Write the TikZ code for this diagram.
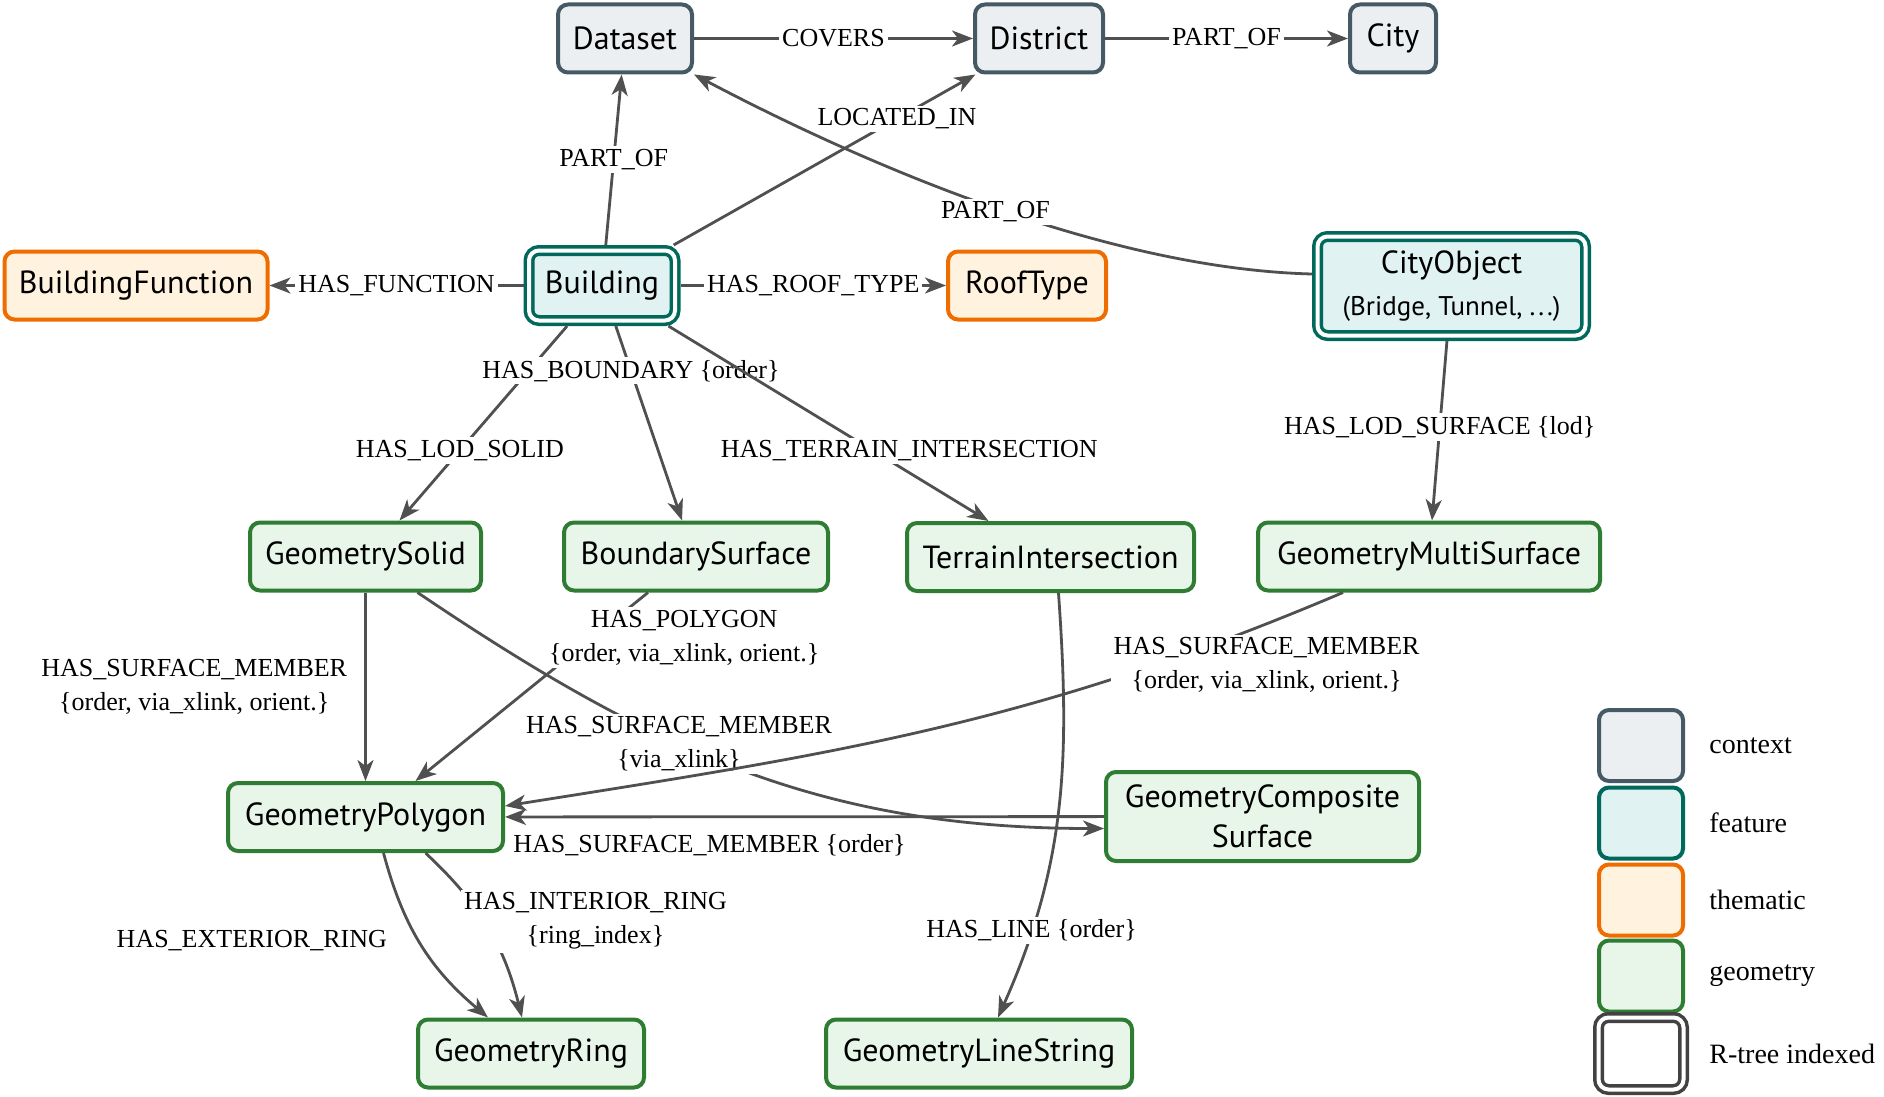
\documentclass[tikz,border=0pt]{standalone}
\usepackage{fontspec}
\setmainfont{Liberation Serif}
\newfontfamily\boxfont{PT Sans}
\usepackage{tikz}
\usetikzlibrary{positioning, arrows.meta}
\usepackage{xcolor}

\definecolor{ctxline}{HTML}{455A64}
\definecolor{ctxfill}{HTML}{ECEFF1}
\definecolor{featline}{HTML}{00695C}
\definecolor{featfill}{HTML}{E0F2F1}
\definecolor{themline}{HTML}{EF6C00}
\definecolor{themfill}{HTML}{FFF3E0}
\definecolor{geomline}{HTML}{2E7D32}
\definecolor{geomfill}{HTML}{E8F5E9}
\definecolor{rtreeline}{HTML}{424242}
\definecolor{edgegray}{HTML}{505050}

\begin{document}
\begin{tikzpicture}[x=0.5pt, y=-0.5pt,
    box/.style={rounded corners=5pt, line width=2pt, minimum height=34pt, inner xsep=5pt,
        font=\boxfont\fontsize{16}{19}\selectfont, align=center},
    ctx/.style={box, draw=ctxline, fill=ctxfill},
    feat/.style={box, draw=featline, fill=featfill},
    thm/.style={box, draw=themline, fill=themfill},
    geom/.style={box, draw=geomline, fill=geomfill},
    rtree/.style={line width=1.75pt, double=white, double distance=2pt, outer sep=2.75pt},
    rel/.style={draw=edgegray, line width=1.4pt, -{Stealth[length=10.5pt, width=8pt, inset=3pt]}},
    lbl/.style={fill=white, inner sep=1.5pt, align=center, font=\fontsize{13}{17}\selectfont},
    legbox/.style={rounded corners=5pt, line width=2pt, minimum width=42pt, minimum height=35.5pt},
    legtext/.style={inner sep=0pt, font=\fontsize{14}{17}\selectfont},
]
    \useasboundingbox (0,0) rectangle (1884,1097);

    % context and features
    \node[ctx, minimum width=67pt] (dataset) at (625,38.5) {Dataset};
    \node[ctx, minimum width=64pt] (district) at (1039,38.5) {District};
    \node[ctx, minimum width=43pt] (city) at (1393,38.5) {City};
    \node[thm, minimum width=131.5pt] (bfunc) at (136,285.5) {BuildingFunction};
    \node[feat, rtree, minimum width=73pt, minimum height=35pt] (building) at (602,285.5) {Building};
    \node[thm, minimum width=79pt] (roof) at (1027,285.5) {RoofType};
    \node[feat, rtree, minimum width=134pt, minimum height=49.5pt] (cityobj) at (1451.5,286)
        {CityObject\\[2pt]{\fontsize{13.5}{16}\selectfont (Bridge, Tunnel, .\kern1.5pt.\kern1.5pt.)}};

    % geometry
    \node[geom, minimum width=115.5pt] (gsolid) at (365.5,556.5) {GeometrySolid};
    \node[geom, minimum width=132pt] (bsurf) at (696,556.5) {BoundarySurface};
    \node[geom, minimum width=143.5pt] (terrain) at (1050.5,557) {TerrainIntersection};
    \node[geom, minimum width=171pt] (gms) at (1429,556.5) {GeometryMultiSurface};
    \node[geom, minimum width=137.5pt] (gpoly) at (365.5,817) {GeometryPolygon};
    \node[geom, minimum width=156.5pt, minimum height=44.5pt] (gcomp) at (1262.5,816.5)
        {GeometryComposite\\[1pt]Surface};
    \node[geom, minimum width=113pt] (gring) at (531,1053.5) {GeometryRing};
    \node[geom, minimum width=153pt] (glines) at (979,1053.5) {GeometryLineString};

    % context relations
    \draw[rel] (dataset) -- node[lbl] {COVERS} (district);
    \draw[rel] (district) -- node[lbl] {PART\_OF} (city);
    \draw[rel] (building) -- node[lbl] {PART\_OF} (dataset);
    \draw[rel] (building) -- node[lbl, pos=0.74] {LOCATED\_IN} (district);
    \draw[rel] ([yshift=6pt]cityobj.west) .. controls +(-200,-5) and +(180,95) .. (dataset.south east)
        node[lbl, pos=0.5, yshift=-2pt] {PART\_OF};
    \draw[rel] (building) -- node[lbl] {HAS\_FUNCTION} (bfunc);
    \draw[rel] (building) -- node[lbl] {HAS\_ROOF\_TYPE} (roof);

    % building to geometry
    \draw[rel] (building) -- node[lbl, pos=0.64] {HAS\_LOD\_SOLID} ([xshift=17pt]gsolid.north);
    \draw[rel] (building) -- node[lbl, pos=0.23] {HAS\_BOUNDARY \{order\}} ([xshift=-7pt]bsurf.north);
    \draw[rel] (building) -- node[lbl, pos=0.64, xshift=18pt] {HAS\_TERRAIN\_INTERSECTION} ([xshift=-31pt]terrain.north);
    \draw[rel] (cityobj) -- node[lbl, pos=0.48] {HAS\_LOD\_SURFACE \{lod\}} ([xshift=1.5pt]gms.north);

    % surfaces and polygons
    \draw[rel] (gsolid) -- node[lbl, left=7pt] {HAS\_SURFACE\_MEMBER\\\{order, via\_xlink, orient.\}} (gpoly);
    \draw[rel] (gcomp) -- node[lbl, pos=1, below right, xshift=2pt, yshift=-6.5pt] {HAS\_SURFACE\_MEMBER \{order\}} (gpoly);
    \draw[rel] ([xshift=-24pt]bsurf.south) -- node[lbl, pos=0.24, xshift=46pt]
        {HAS\_POLYGON\\\{order, via\_xlink, orient.\}} ([xshift=25pt]gpoly.north);
    \draw[rel] ([xshift=26pt]gsolid.south) to[out=-34, in=180] node[lbl, pos=0.4]
        {HAS\_SURFACE\_MEMBER\\\{via\_xlink\}} ([yshift=-6pt]gcomp.west);
    \draw[rel] ([xshift=-43pt]gms.south) to[out=-157, in=9] node[lbl, pos=0.2, xshift=49pt, yshift=-2.5pt]
        {HAS\_SURFACE\_MEMBER\\\{order, via\_xlink, orient.\}} ([yshift=5.5pt]gpoly.east);

    % rings and lines
    \draw[rel] ([xshift=9pt]gpoly.south) to[out=-75, in=140] node[lbl, left=15pt, yshift=2pt]
        {HAS\_EXTERIOR\_RING} ([xshift=-21.5pt]gring.north);
    \draw[rel] ([xshift=30pt]gpoly.south) to[out=-43, in=104] node[lbl, xshift=54pt, yshift=3pt]
        {HAS\_INTERIOR\_RING\\\{ring\_index\}} ([xshift=-4.5pt]gring.north);
    \draw[rel] ([xshift=4pt]terrain.south) to[out=-86, in=66] node[lbl, pos=0.8]
        {HAS\_LINE \{order\}} ([xshift=9.5pt]glines.north);

    % legend
    \node[legbox, draw=ctxline, fill=ctxfill] (lctx) at (1641,745.5) {};
    \node[legbox, draw=featline, fill=featfill] (lfeat) at (1641,823) {};
    \node[legbox, draw=themline, fill=themfill] (lthm) at (1641,900) {};
    \node[legbox, draw=geomline, fill=geomfill] (lgeom) at (1641,976) {};
    \node[legbox, rtree, draw=rtreeline, fill=white, minimum width=42.5pt, minimum height=36pt] (lrtree) at (1641,1053.5) {};
    \node[legtext, right=12pt of lctx] {context};
    \node[legtext, right=12pt of lfeat] {feature};
    \node[legtext, right=12pt of lthm] {thematic};
    \node[legtext, right=12pt of lgeom] {geometry};
    \node[legtext, right=10pt of lrtree] {R-tree indexed};
\end{tikzpicture}
\end{document}
